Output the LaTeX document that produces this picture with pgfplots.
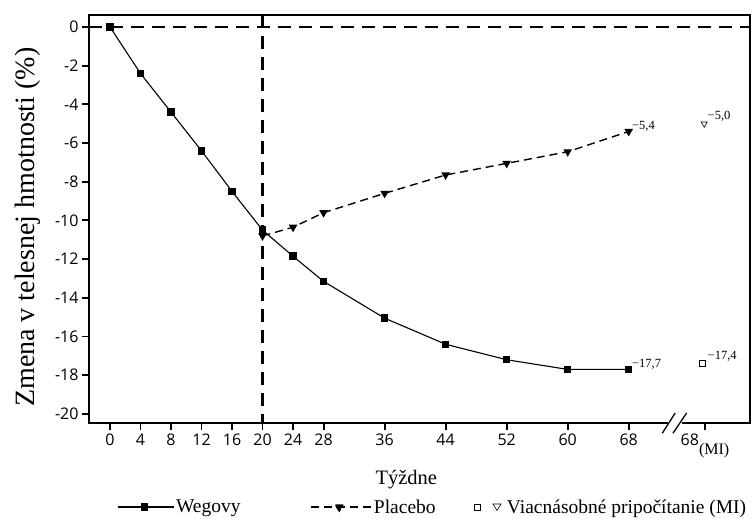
\documentclass[border=0pt]{standalone}
\usepackage{fontspec}
\setmainfont{Liberation Serif}
\newfontfamily\ticksans{Open Sans}
\usepackage{pgfplots}
\pgfplotsset{compat=1.18}

\pgfplotstableread{
wk   val
0    0
4    -2.4
8    -4.4
12   -6.4
16   -8.5
20   -10.5
24   -11.85
28   -13.15
36   -15.05
44   -16.4
52   -17.2
60   -17.7
68   -17.7
}\wegovy
\pgfplotstableread{
wk   val
20   -10.8
24   -10.35
28   -9.6
36   -8.6
44   -7.65
52   -7.05
60   -6.45
68   -5.4
}\placebo

\begin{document}
\begin{tikzpicture}
\begin{axis}[
  at={(0,0)}, anchor=south west,
  scale only axis, width=661pt, height=408pt,
  xmin=-2.75, xmax=83.9, ymin=-20.47, ymax=0.62,
  clip=false,
  axis line style={line width=1.9pt},
  tick align=outside, tick pos=left, major tick length=7pt,
  tick style={line width=1.9pt, black},
  xtick={0,4,8,12,16,20,24,28,36,44,52,60,68,78},
  xticklabels={0,4,8,12,16,20,24,28,36,44,52,60,68,{68\raisebox{-1.1ex}{\rmfamily\fontsize{16}{16}\selectfont(MI)}}},
  ytick={0,-2,-4,-6,-8,-10,-12,-14,-16,-18,-20},
  yticklabels={0,-2,-4,-6,-8,-10,-12,-14,-16,-18,-20},
  tick label style={font=\ticksans\fontsize{16}{16}\selectfont},
  xlabel={Týždne},
  xlabel style={at={(axis description cs:0.48,-0.138)}, anchor=center, font=\fontsize{20.5}{20.5}\selectfont},
  ylabel={Zmena v telesnej hmotnosti (\%)},
  ylabel style={at={(axis description cs:-0.092,0.48)}, anchor=center, font=\fontsize{28}{28}\selectfont},
  legend columns=3,
  legend style={draw=none, inner sep=0pt, at={(0.042,-0.206)}, anchor=west,
    font=\fontsize{19.5}{19.5}\selectfont,
    /tikz/column 2/.style={column sep=68pt},
    /tikz/column 4/.style={column sep=36pt}},
]
% reference lines
\addplot[forget plot, black, line width=2.2pt, dash pattern=on 13pt off 8pt] coordinates {(-2.75,0) (83.9,0)};
\addplot[forget plot, black, line width=2.2pt, dash pattern=on 13pt off 8pt] coordinates {(20,0.62) (20,-20.47)};

\addplot[black, line width=1.1pt, mark=square*, mark size=3.2pt,
  legend image code/.code={\draw[line width=1.1pt] (0pt,0pt) -- (56pt,0pt);
    \fill (24pt,-3pt) rectangle (30pt,3pt);}]
  table[x=wk, y=val] {\wegovy};
\addplot[black, line width=1.4pt, dash pattern=on 8pt off 5pt, mark=triangle*, mark size=3.6pt,
  mark options={solid, rotate=180},
  legend image code/.code={\draw[line width=1.4pt, dash pattern=on 8pt off 5pt] (0pt,0pt) -- (60pt,0pt);
    \fill (24pt,2pt) -- (32pt,2pt) -- (28pt,-4pt) -- cycle;}]
  table[x=wk, y=val] {\placebo};
\addlegendimage{legend image code/.code={
    \path[draw=none, fill=none] (0pt,0pt) -- (31pt,0pt);
    \draw[line width=0.6pt, fill=none] (0pt,-3pt) rectangle (6pt,3pt);
    \draw[line width=0.6pt, fill=none] (19pt,3pt) -- (27pt,3pt) -- (23pt,-3.5pt) -- cycle;}}

% multiple imputation points
\addplot[forget plot, only marks, mark=square, mark size=3pt, mark options={line width=0.6pt}]
  coordinates {(77.6,-17.4)};
\addplot[forget plot, only marks, mark=triangle, mark size=3.5pt, mark options={line width=0.6pt, rotate=180}]
  coordinates {(77.9,-5.0)};

% value labels
\node[anchor=south west, inner sep=1pt, font=\fontsize{12.5}{12.5}\selectfont] at (axis cs:68.3,-17.75) {−17,7};
\node[anchor=south west, inner sep=1pt, font=\fontsize{12.5}{12.5}\selectfont] at (axis cs:68.3,-5.45) {−5,4};
\node[anchor=south west, inner sep=1pt, font=\fontsize{12.5}{12.5}\selectfont] at (axis cs:78.2,-17.35) {−17,4};
\node[anchor=south west, inner sep=1pt, font=\fontsize{12.5}{12.5}\selectfont] at (axis cs:78.2,-4.95) {−5,0};

% axis break on the x axis
\fill[white] (axis cs:73.1,-20.75) rectangle (axis cs:75.0,-20.2);
\draw[line width=1.3pt] (axis cs:72.4,-21.0) -- (axis cs:74.1,-19.95);
\draw[line width=1.3pt] (axis cs:73.8,-21.0) -- (axis cs:75.6,-19.95);

\legend{Wegovy, Placebo, Viacnásobné pripočítanie (MI)}
\end{axis}
\pgfresetboundingbox
\path (-89pt,-96pt) rectangle (664pt,423pt);
\end{tikzpicture}
\end{document}
